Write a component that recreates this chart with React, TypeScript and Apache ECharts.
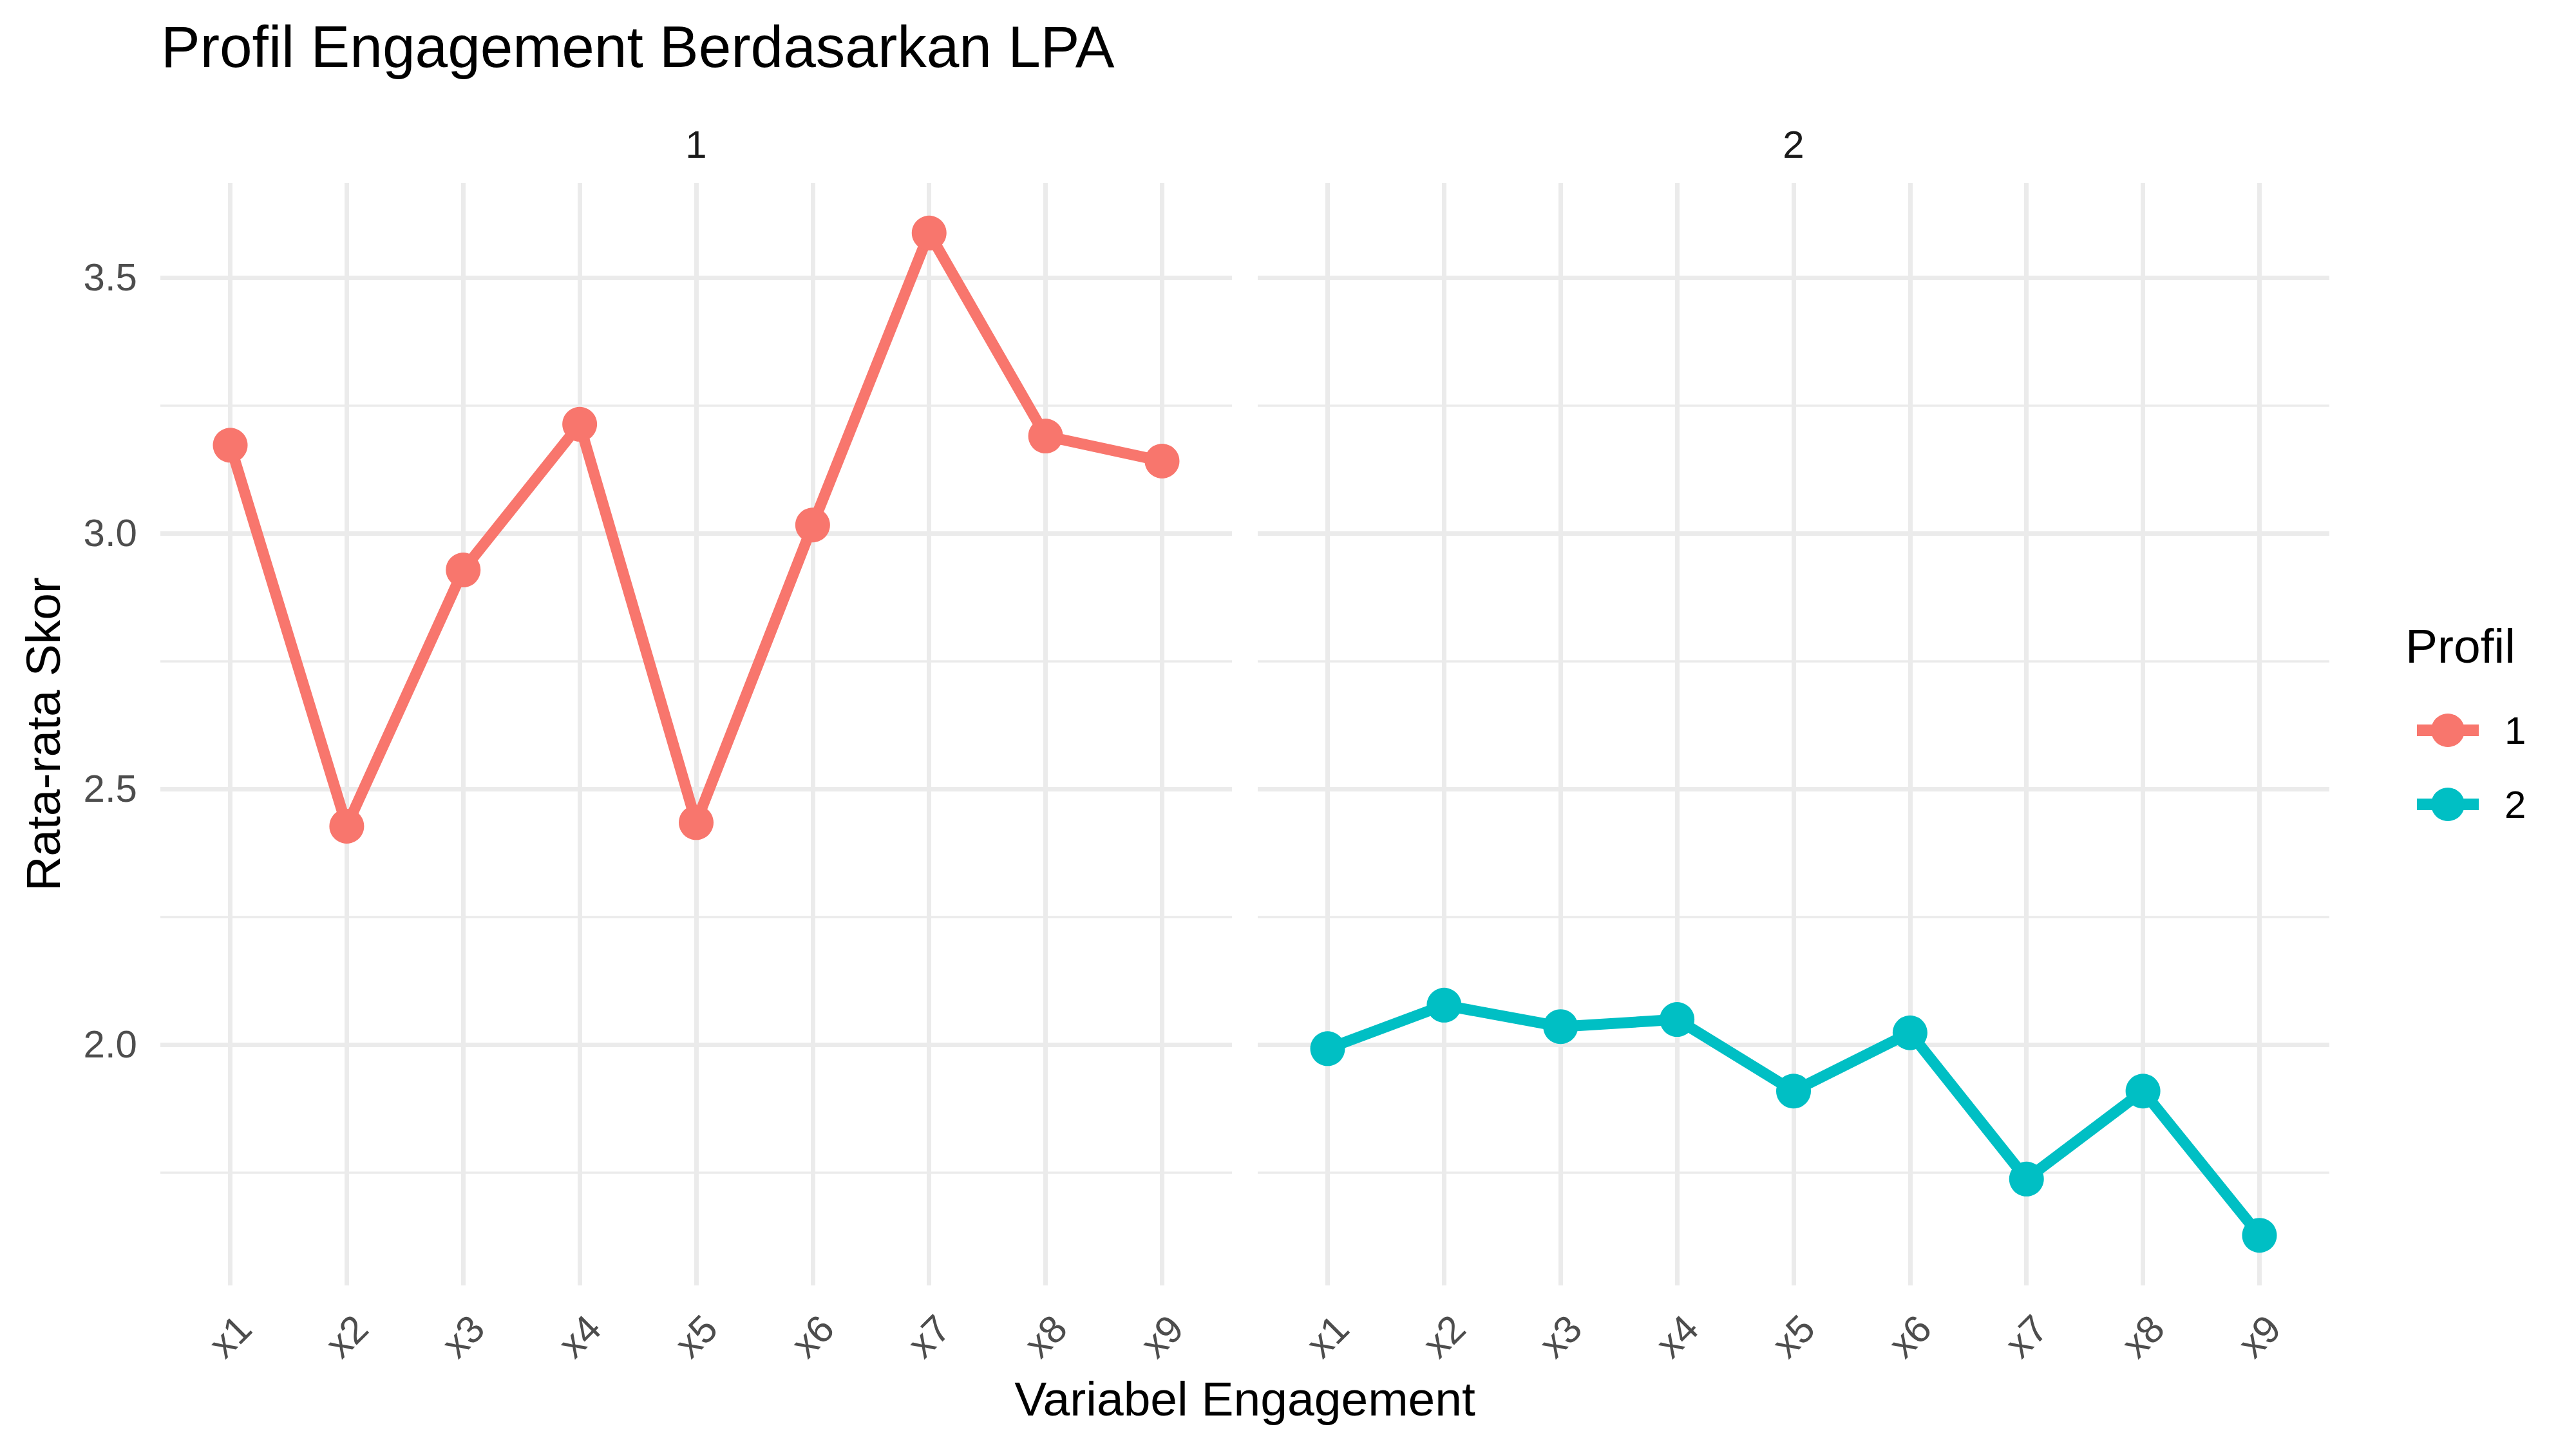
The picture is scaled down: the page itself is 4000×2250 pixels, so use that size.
import React, { useEffect, useRef } from "react";
import * as echarts from "echarts";

const categories = ["x1", "x2", "x3", "x4", "x5", "x6", "x7", "x8", "x9"];
const profile1 = [3.172, 2.427, 2.928, 3.213, 2.434, 3.016, 3.587, 3.19, 3.141];
const profile2 = [1.992, 2.077, 2.035, 2.049, 1.909, 2.023, 1.737, 1.909, 1.627];
const profileNames = ["1", "2"];
const profileColors = ["#F8766D", "#00BFC4"];
const majorY = [2.0, 2.5, 3.0, 3.5];
const minorY = [1.75, 2.25, 2.75, 3.25];

const FONT = "Liberation Sans, Arial, sans-serif";

export default function App() {
  const ref = useRef<HTMLDivElement>(null);

  useEffect(() => {
    if (!ref.current) return;
    const chart = echarts.init(ref.current, null, { renderer: "svg" });

    const allVals = profile1.concat(profile2);
    const dMin = Math.min(...allVals);
    const dMax = Math.max(...allVals);
    const pad = (dMax - dMin) * 0.05;
    const yMin = dMin - pad;
    const yMax = dMax + pad;

    const panelTop = 284;
    const panelH = 1712;
    const panelW = 1664;
    const panelLefts = [249, 1953];
    const step = panelW / (categories.length - 1 + 1.2);

    const grids: any[] = [];
    const xAxes: any[] = [];
    const yAxes: any[] = [];
    const series: any[] = [];

    panelLefts.forEach((left, p) => {
      // background grid (full panel) for horizontal grid lines and y labels
      grids.push({ left, top: panelTop, width: panelW, height: panelH, containLabel: false });
      xAxes.push({ type: "value", gridIndex: grids.length - 1, min: 0, max: 1, show: false });
      yAxes.push({
        type: "value",
        gridIndex: grids.length - 1,
        min: yMin,
        max: yMax,
        splitNumber: 4,
        axisLine: { show: false },
        axisTick: { show: false },
        splitLine: { show: false },
        axisLabel: {
          show: p === 0,
          margin: 36,
          fontSize: 60,
          fontFamily: FONT,
          color: "#4D4D4D",
          showMinLabel: false,
          showMaxLabel: false,
          formatter: (v: number) => {
            const r = Math.round(v * 2) / 2;
            return Math.abs(v - r) < 1e-6 ? r.toFixed(1) : "";
          },
        },
      });
      const bgIdx = grids.length - 1;
      series.push({
        type: "line",
        xAxisIndex: bgIdx,
        yAxisIndex: bgIdx,
        data: [],
        silent: true,
        z: 0,
        markLine: {
          silent: true,
          symbol: "none",
          animation: false,
          label: { show: false },
          data: [
            ...majorY.map((v) => ({ yAxis: v, lineStyle: { color: "#EBEBEB", width: 7, type: "solid" } })),
            ...minorY.map((v) => ({ yAxis: v, lineStyle: { color: "#EBEBEB", width: 3.5, type: "solid" } })),
          ],
        },
      });

      // foreground grid (category positions)
      grids.push({
        left: left + step * 0.6,
        top: panelTop,
        width: step * (categories.length - 1),
        height: panelH,
        containLabel: false,
      });
      const fgIdx = grids.length - 1;
      xAxes.push({
        type: "category",
        gridIndex: fgIdx,
        data: categories,
        boundaryGap: false,
        axisLine: { show: false },
        axisTick: { show: false },
        splitLine: { show: true, lineStyle: { color: "#EBEBEB", width: 7 } },
        axisLabel: {
          interval: 0,
          rotate: 45,
          align: "center",
          verticalAlign: "middle",
          margin: 79,
          fontSize: 60,
          fontFamily: FONT,
          color: "#4D4D4D",
        },
      });
      yAxes.push({ type: "value", gridIndex: fgIdx, min: yMin, max: yMax, show: false, splitLine: { show: false } });
      series.push({
        name: profileNames[p],
        type: "line",
        xAxisIndex: fgIdx,
        yAxisIndex: fgIdx,
        data: p === 0 ? profile1 : profile2,
        symbol: "circle",
        symbolSize: 54,
        clip: false,
        z: 5,
        lineStyle: { color: profileColors[p], width: 17 },
        itemStyle: { color: profileColors[p] },
      });
    });

    const graphic: any[] = [
      {
        type: "text",
        x: 250,
        y: 72,
        style: { text: "Profil Engagement Berdasarkan LPA", fontSize: 91, fontFamily: FONT, fill: "#000000", align: "left", verticalAlign: "middle" },
      },
      ...panelLefts.map((left, p) => ({
        type: "text",
        x: left + panelW / 2,
        y: 224,
        style: { text: profileNames[p], fontSize: 60, fontFamily: FONT, fill: "#1A1A1A", align: "center", verticalAlign: "middle" },
      })),
      {
        type: "text",
        x: (panelLefts[0] + panelLefts[1] + panelW) / 2,
        y: 2172,
        style: { text: "Variabel Engagement", fontSize: 75, fontFamily: FONT, fill: "#000000", align: "center", verticalAlign: "middle" },
      },
      {
        type: "text",
        x: 67,
        y: panelTop + panelH / 2,
        rotation: Math.PI / 2,
        style: { text: "Rata-rata Skor", fontSize: 75, fontFamily: FONT, fill: "#000000", align: "center", verticalAlign: "middle" },
      },
      {
        type: "text",
        x: 3735,
        y: 1003,
        style: { text: "Profil", fontSize: 75, fontFamily: FONT, fill: "#000000", align: "left", verticalAlign: "middle" },
      },
    ];

    chart.setOption({
      animation: false,
      backgroundColor: "#FFFFFF",
      grid: grids,
      xAxis: xAxes,
      yAxis: yAxes,
      series,
      graphic,
      legend: {
        data: profileNames,
        orient: "vertical",
        left: 3744,
        top: 1104,
        padding: 0,
        itemWidth: 96,
        itemHeight: 65,
        itemGap: 55,
        selectedMode: false,
        lineStyle: { width: 18 },
        textStyle: { fontSize: 60, fontFamily: FONT, color: "#000000", padding: [0, 0, 0, 35] },
      },
    });

    return () => chart.dispose();
  }, []);

  return <div ref={ref} style={{ position: "absolute", left: 0, top: 0, width: 4000, height: 2250 }} />;
}
